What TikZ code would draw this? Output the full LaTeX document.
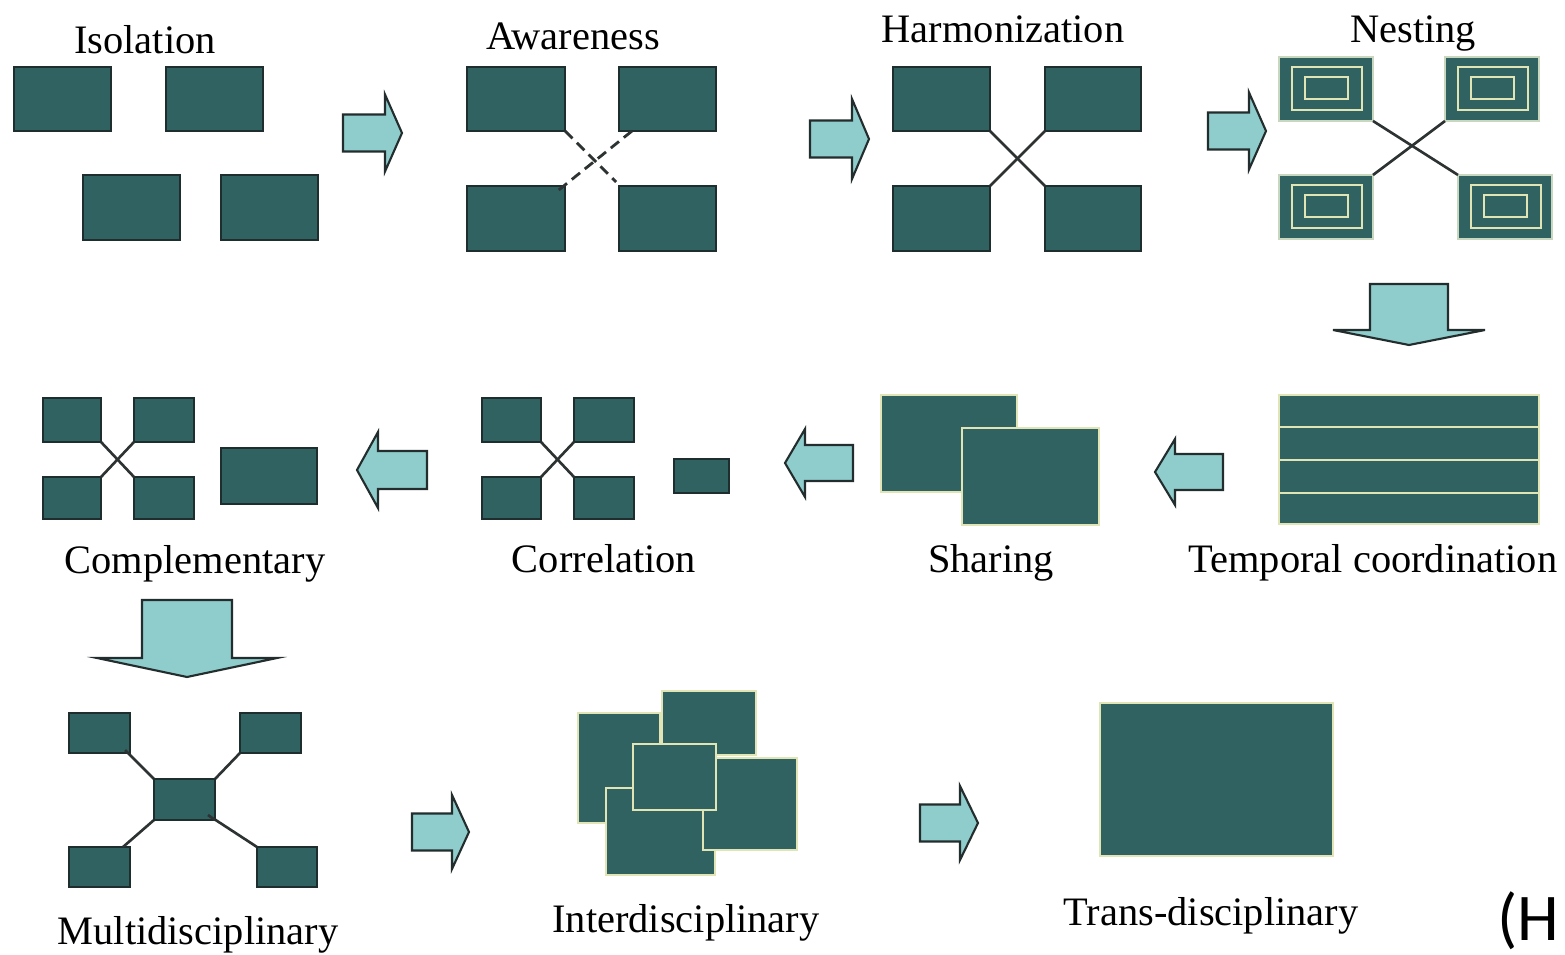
\documentclass[tikz,border=0pt]{standalone}
\usepackage{fontspec}
\setmainfont{Liberation Serif}
\newfontfamily\hfont{Carlito}
\definecolor{boxfill}{RGB}{48,98,98}
\definecolor{boxline}{RGB}{30,45,45}
\definecolor{cream}{RGB}{225,228,180}
\definecolor{paleedge}{RGB}{200,215,190}
\definecolor{arrfill}{RGB}{143,204,204}
\definecolor{arrline}{RGB}{35,45,45}
\definecolor{linkcol}{RGB}{45,50,50}
\tikzset{
  dk/.style={draw=boxline, fill=boxfill, line width=1.1pt, inner sep=0pt, outer sep=0pt},
  lt/.style={draw=cream, fill=boxfill, line width=0.9pt, inner sep=0pt, outer sep=0pt},
  pl/.style={draw=paleedge, fill=boxfill, line width=0.6pt, inner sep=0pt, outer sep=0pt},
  inr/.style={draw=cream, line width=0.9pt, inner sep=0pt, outer sep=0pt},
  arr/.style={draw=arrline, fill=arrfill, line width=1.2pt, line join=miter},
  lnk/.style={draw=linkcol, line width=1.5pt},
  dlnk/.style={draw=linkcol, line width=1.6pt, dash pattern=on 6pt off 3.5pt},
  lab/.style={font=\fontsize{23}{27}\selectfont, anchor=base, inner sep=0pt}
}
% box: name, x1, y1, x2, y2, style
\newcommand\bx[6]{\node[#6, minimum width={((#4)-(#2))*0.02cm}, minimum height={((#5)-(#3))*0.02cm}] (#1) at ({((#2)+(#4))/2},{((#3)+(#5))/2}) {};}
% right arrow: xleft, xbase, xtip, ycenter, body half, head half
\newcommand\rarr[6]{\draw[arr] ({#1},{#4-#5}) -- ({#2},{#4-#5}) -- ({#2},{#4-#6}) -- ({#3},{#4}) -- ({#2},{#4+#6}) -- ({#2},{#4+#5}) -- ({#1},{#4+#5}) -- cycle;}
% left arrow: xtip, xbase, xright, ycenter, body half, head half
\newcommand\larr[6]{\draw[arr] ({#3},{#4-#5}) -- ({#2},{#4-#5}) -- ({#2},{#4-#6}) -- ({#1},{#4}) -- ({#2},{#4+#6}) -- ({#2},{#4+#5}) -- ({#3},{#4+#5}) -- cycle;}
% down arrow: xcenter, ytop, ybase, ytip, body half, head half
\newcommand\darr[6]{\draw[arr] ({#1-#5},{#2}) -- ({#1+#5},{#2}) -- ({#1+#5},{#3}) -- ({#1+#6},{#3}) -- ({#1},{#4}) -- ({#1-#6},{#3}) -- ({#1-#5},{#3}) -- cycle;}
\begin{document}
\begin{tikzpicture}[x=0.02cm, y=-0.02cm]
\useasboundingbox (0,0) rectangle (1565,955);
\fill[white] (0,0) rectangle (1565,955);
\clip (0,0) rectangle (1565,955);

% ---------- Row 1 ----------
\node[lab] (tIso) at (145,54) {Isolation};
\bx{i1}{14}{67}{111}{131}{dk}
\bx{i2}{166}{67}{263}{131}{dk}
\bx{i3}{83}{175}{180}{240}{dk}
\bx{i4}{221}{175}{318}{240}{dk}

\rarr{343}{385}{402}{133}{18.5}{38.5}

\node[lab] (tAw) at (573,50) {Awareness};
\bx{a1}{467}{67}{565}{131}{dk}
\bx{a2}{619}{67}{716}{131}{dk}
\bx{a3}{467}{186}{565}{251}{dk}
\bx{a4}{619}{186}{716}{251}{dk}
\coordinate (a2in) at (632,131);
\coordinate (a3in) at (555,193);
\coordinate (a4in) at (616,182);
\draw[dlnk] (a1.south east) -- (a4in);
\draw[dlnk] (a2in) -- (a3in);

\rarr{810}{852}{869}{139}{18.5}{40}

\node[lab] (tHa) at (1003,43) {Harmonization};
\bx{h1}{893}{67}{990}{131}{dk}
\bx{h2}{1045}{67}{1141}{131}{dk}
\bx{h3}{893}{186}{990}{251}{dk}
\bx{h4}{1045}{186}{1141}{251}{dk}
\draw[lnk] (h1.south east) -- (h4.north west);
\draw[lnk] (h2.south west) -- (h3.north east);

\rarr{1208}{1249}{1266}{131}{18.5}{38.5}

\node[lab] (tNe) at (1413,43) {Nesting};
\foreach \n/\xa/\ya in {n1/1279/57, n2/1445/57, n3/1279/175, n4/1458/175}{
  \bx{\n}{\xa}{\ya}{\xa+94}{\ya+64}{pl}
  \bx{\n a}{\xa+13}{\ya+10}{\xa+83}{\ya+53}{inr}
  \bx{\n b}{\xa+26}{\ya+20}{\xa+69}{\ya+42}{inr}
}
\draw[lnk] (n1.south east) -- (n4.north west);
\draw[lnk] (n2.south west) -- (n3.north east);

\darr{1409}{284}{330}{345}{39}{76}

% ---------- Row 2 ----------
\bx{tc}{1279}{395}{1539}{524}{lt}
\draw[cream, line width=0.9pt] (tc.west |- 0,427) -- (tc.east |- 0,427);
\draw[cream, line width=0.9pt] (tc.west |- 0,460) -- (tc.east |- 0,460);
\draw[cream, line width=0.9pt] (tc.west |- 0,493) -- (tc.east |- 0,493);
\node[lab] (tTc) at (1373,573) {Temporal coordination};

\larr{1155}{1175}{1223}{472}{18}{33}

\bx{s1}{881}{395}{1017}{492}{lt}
\bx{s2}{962}{428}{1099}{525}{lt}
\node[lab] (tSh) at (991,573) {Sharing};

\larr{785}{805}{853}{463}{18}{34}

\bx{c1}{482}{398}{541}{442}{dk}
\bx{c2}{574}{398}{634}{442}{dk}
\bx{c3}{482}{477}{541}{519}{dk}
\bx{c4}{574}{477}{634}{519}{dk}
\bx{c5}{674}{459}{729}{493}{dk}
\draw[lnk] (c1.south east) -- (c4.north west);
\draw[lnk] (c2.south west) -- (c3.north east);
\node[lab] (tCo) at (604,573) {Correlation};

\larr{357}{378}{427}{470}{19}{38}

\bx{m1}{43}{398}{101}{442}{dk}
\bx{m2}{134}{398}{194}{442}{dk}
\bx{m3}{43}{477}{101}{519}{dk}
\bx{m4}{134}{477}{194}{519}{dk}
\bx{m5}{221}{448}{317}{504}{dk}
\draw[lnk] (m1.south east) -- (m4.north west);
\draw[lnk] (m2.south west) -- (m3.north east);
\node[lab] (tCm) at (195,574) {Complementary};

\darr{187}{600}{658}{677}{45}{90}

% ---------- Row 3 ----------
\bx{u1}{69}{713}{130}{753}{dk}
\bx{u2}{240}{713}{301}{753}{dk}
\bx{u3}{69}{847}{130}{887}{dk}
\bx{u4}{257}{847}{317}{887}{dk}
\coordinate (u1in) at (125,750);
\coordinate (u5in) at (208,815);
\draw[lnk] (u1in) -- (154,779) coordinate (u5a);
\draw[lnk] (u2.south west) -- (215,779) coordinate (u5b);
\draw[lnk] (154,820) coordinate (u5c) -- (123,847) coordinate (u3in);
\draw[lnk] (u5in) -- (u4.north west);
\bx{u5}{154}{779}{215}{820}{dk}
\draw[lnk] (u5in) -- (u5.south east);
\node[lab] (tMu) at (198,944) {Multidisciplinary};

\rarr{412}{452}{469}{832}{18.5}{37}

\bx{d1}{578}{713}{660}{823}{lt}
\bx{d2}{662}{691}{756}{755}{lt}
\bx{d4}{606}{788}{715}{875}{lt}
\bx{d3}{703}{758}{797}{850}{lt}
\bx{d5}{633}{744}{716}{810}{lt}
\node[lab] (tIn) at (686,932) {Interdisciplinary};

\rarr{920}{960}{978}{823}{18.5}{37}

\bx{tr}{1100}{703}{1333}{856}{lt}
\node[lab] (tTr) at (1211,925) {Trans-disciplinary};

\node[font=\hfont\fontsize{38}{44}\selectfont, anchor=base west, inner sep=0pt] (hh) at (1497,940) {(H};
\end{tikzpicture}
\end{document}
